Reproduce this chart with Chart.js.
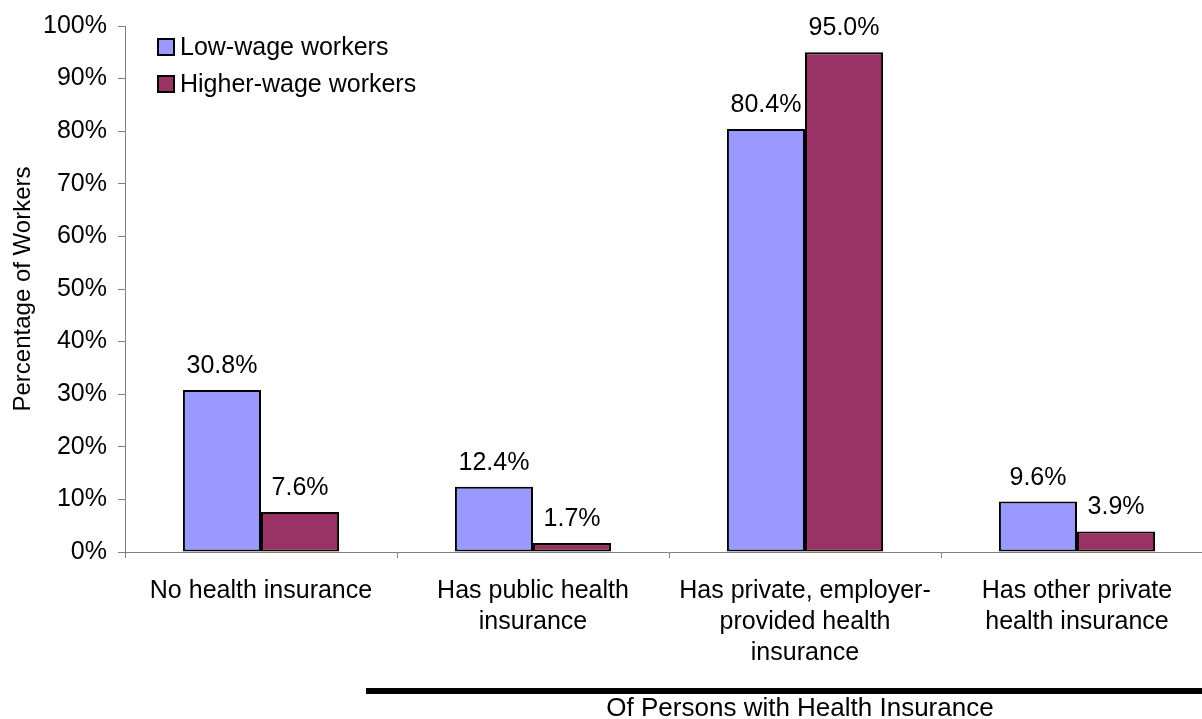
<!DOCTYPE html>
<html>
<head>
<meta charset="utf-8">
<title>Health insurance coverage by wage level</title>
<script src="https://cdn.jsdelivr.net/npm/chart.js@4/dist/chart.umd.min.js"></script>
<style>
  html, body { margin: 0; padding: 0; background: #fff; overflow: hidden; }
  #wrap { width: 1202px; height: 719px; overflow: hidden; }
</style>
</head>
<body>
<div id="wrap"><canvas id="myChart" width="1213" height="719"></canvas></div>
<script>
// chart data
const categories = [
  ['No health insurance'],
  ['Has public health', 'insurance'],
  ['Has private, employer-', 'provided health', 'insurance'],
  ['Has other private', 'health insurance']
];
const lowWage = [30.8, 12.4, 80.4, 9.6];
const higherWage = [7.6, 1.7, 95.0, 3.9];
const seriesNames = ['Low-wage workers', 'Higher-wage workers'];
const yTicks = [0, 10, 20, 30, 40, 50, 60, 70, 80, 90, 100];
const groupCaption = 'Of Persons with Health Insurance';

const FONT = 'Arial, "Liberation Sans", sans-serif';
const AXIS_GREY = '#808080';

// value labels above each bar
const barLabels = {
  id: 'barLabels',
  afterDatasetsDraw(chart) {
    const ctx = chart.ctx;
    ctx.save();
    ctx.font = '25px ' + FONT;
    ctx.fillStyle = '#000';
    ctx.textAlign = 'center';
    ctx.textBaseline = 'alphabetic';
    chart.data.datasets.forEach((ds, i) => {
      chart.getDatasetMeta(i).data.forEach((bar, j) => {
        ctx.fillText(ds.data[j].toFixed(1) + '%', bar.x, bar.y - 17);
      });
    });
    ctx.restore();
  }
};

// legend box in the top-left corner of the plot
const cornerLegend = {
  id: 'cornerLegend',
  afterDraw(chart) {
    const ctx = chart.ctx;
    ctx.save();
    ctx.font = '25px ' + FONT;
    ctx.textBaseline = 'middle';
    ctx.textAlign = 'left';
    chart.data.datasets.forEach((ds, i) => {
      const y = 47 + i * 37;
      ctx.fillStyle = ds.backgroundColor;
      ctx.fillRect(158, y - 8, 16, 16);
      ctx.strokeStyle = '#000';
      ctx.lineWidth = 2;
      ctx.strokeRect(158, y - 8, 16, 16);
      ctx.fillStyle = '#000';
      ctx.fillText(ds.label, 180, y + 1);
    });
    ctx.restore();
  }
};

// bracket line and caption under the insured groups
const groupBracket = {
  id: 'groupBracket',
  afterDraw(chart) {
    const ctx = chart.ctx;
    ctx.save();
    ctx.fillStyle = '#000';
    ctx.fillRect(366, 688, chart.width - 366, 6);
    ctx.font = '26px ' + FONT;
    ctx.textAlign = 'center';
    ctx.textBaseline = 'middle';
    ctx.fillText(groupCaption, 800, 709);
    ctx.restore();
  }
};

const ctx = document.getElementById('myChart').getContext('2d');
const myChart = new Chart(ctx, {
  type: 'bar',
  data: {
    labels: categories,
    datasets: [{
      label: seriesNames[0],
      data: lowWage,
      backgroundColor: '#9999FF',
      borderColor: '#000',
      borderWidth: 2,
      borderSkipped: false
    }, {
      label: seriesNames[1],
      data: higherWage,
      backgroundColor: '#993366',
      borderColor: '#000',
      borderWidth: 2,
      borderSkipped: false
    }]
  },
  options: {
    responsive: false,
    animation: false,
    categoryPercentage: 0.574,
    barPercentage: 1,
    layout: { padding: { top: 24, left: 0, right: 0, bottom: 0 } },
    plugins: {
      legend: { display: false },
      tooltip: { enabled: false }
    },
    scales: {
      x: {
        afterFit: s => { s.height = 167; },
        grid: { offset: true, drawOnChartArea: false, tickLength: 6, color: AXIS_GREY },
        border: { color: AXIS_GREY, width: 1 },
        ticks: {
          color: '#000',
          font: { family: FONT, size: 25, lineHeight: 1.25 },
          padding: 17,
          maxRotation: 0,
          autoSkip: false
        }
      },
      y: {
        min: yTicks[0],
        max: yTicks[yTicks.length - 1],
        afterFit: s => { s.width = 125; },
        afterBuildTicks: s => { s.ticks = yTicks.map(v => ({ value: v })); },
        grid: { drawOnChartArea: false, tickLength: 7, color: AXIS_GREY },
        border: { color: AXIS_GREY, width: 1 },
        title: {
          display: true,
          text: 'Percentage of Workers',
          color: '#000',
          font: { family: FONT, size: 24 },
          padding: { top: 9, bottom: 0 }
        },
        ticks: {
          color: '#000',
          font: { family: FONT, size: 25 },
          padding: 11,
          callback: v => v + '%'
        }
      }
    }
  },
  plugins: [barLabels, cornerLegend, groupBracket]
});
</script>
</body>
</html>
